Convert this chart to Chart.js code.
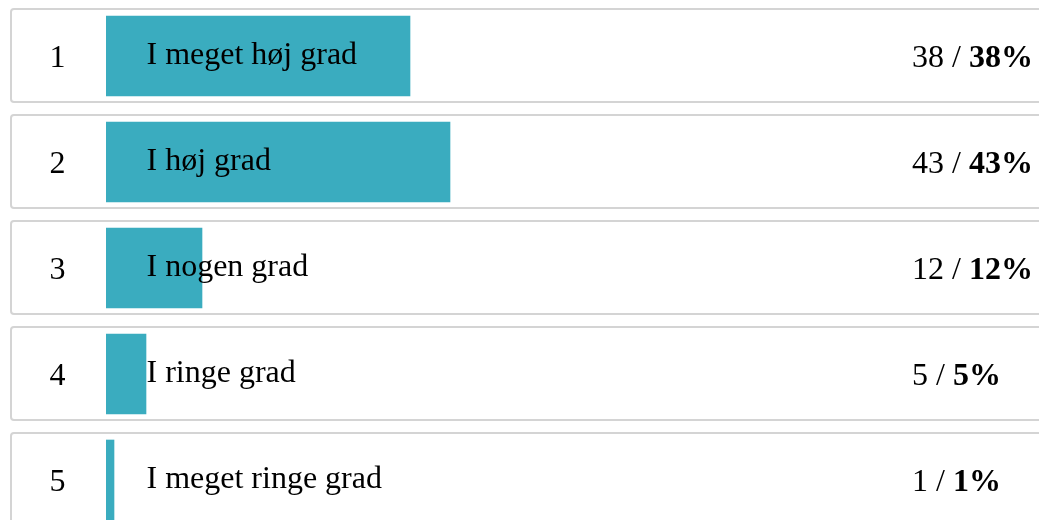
<!DOCTYPE html>
<html>
<head>
<meta charset="utf-8">
<script src="https://cdn.jsdelivr.net/npm/chart.js@4/dist/chart.umd.min.js"></script>
<style>
  html, body { margin: 0; padding: 0; background: #ffffff; overflow: hidden; width: 1039px; height: 520px; }
  canvas { display: block; }
</style>
</head>
<body>
<canvas id="c" width="1039" height="540"></canvas>
<script>
const rowNumbers = ['1', '2', '3', '4', '5'];
const categories = ['I meget høj grad', 'I høj grad', 'I nogen grad', 'I ringe grad', 'I meget ringe grad'];
const counts = [38, 43, 12, 5, 1];
const percents = [38, 43, 12, 5, 1];

const FONT = "'Liberation Serif', 'Times New Roman', serif";
const BAR_COLOR = '#3aacbf';

const rowPlugin = {
  id: 'rowPlugin',
  beforeDatasetsDraw(chart) {
    const ctx = chart.ctx;
    const y = chart.scales.y;
    ctx.save();
    ctx.strokeStyle = '#d4d4d4';
    ctx.lineWidth = 2;
    categories.forEach((c, i) => {
      const cy = Math.round(y.getPixelForValue(i));
      const top = cy - 47, h = 93, left = 11, right = 1050;
      ctx.beginPath();
      ctx.roundRect(left, top, right - left, h, 3);
      ctx.stroke();
    });
    ctx.restore();
  },
  afterDatasetsDraw(chart) {
    const ctx = chart.ctx;
    const x = chart.scales.x;
    const y = chart.scales.y;
    ctx.save();
    ctx.fillStyle = '#000000';
    ctx.textBaseline = 'alphabetic';
    categories.forEach((c, i) => {
      const cy = Math.round(y.getPixelForValue(i));
      // row number
      ctx.font = '32px ' + FONT;
      ctx.textAlign = 'center';
      ctx.fillText(rowNumbers[i], 57.5, cy + 11);
      // category label
      ctx.textAlign = 'left';
      ctx.fillText(c, x.left + 40.5, cy + 8);
      // value text
      const vx = x.right + 6;
      const part1 = counts[i] + ' / ';
      ctx.font = '32px ' + FONT;
      ctx.fillText(part1, vx, cy + 11);
      const w1 = ctx.measureText(part1).width;
      ctx.font = 'bold 32px ' + FONT;
      ctx.fillText(percents[i] + '%', vx + w1, cy + 11);
    });
    ctx.restore();
  }
};

new Chart(document.getElementById('c'), {
  type: 'bar',
  data: {
    labels: categories,
    datasets: [{
      data: percents,
      backgroundColor: BAR_COLOR,
      borderWidth: 0,
      barThickness: 80
    }]
  },
  options: {
    indexAxis: 'y',
    responsive: false,
    animation: false,
    devicePixelRatio: 1,
    layout: { padding: { left: 106, right: 133, top: 3, bottom: 7 } },
    scales: {
      x: { display: false, min: 0, max: 100 },
      y: { display: false }
    },
    plugins: {
      legend: { display: false },
      tooltip: { enabled: false }
    }
  },
  plugins: [rowPlugin]
});
</script>
</body>
</html>
